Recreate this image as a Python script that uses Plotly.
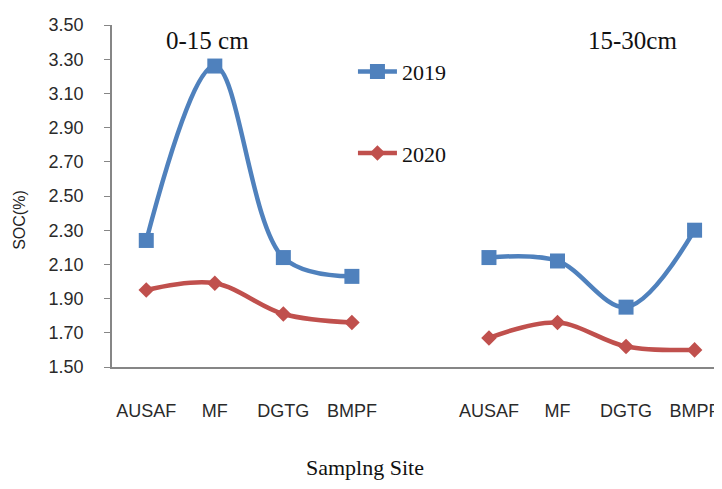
import plotly.graph_objects as go

sites = ["AUSAF", "MF", "DGTG", "BMPF"]
depths = ["0-15 cm", "15-30cm"]
soc_2019_0_15 = [2.24, 3.26, 2.14, 2.03]
soc_2020_0_15 = [1.95, 1.99, 1.81, 1.76]
soc_2019_15_30 = [2.14, 2.12, 1.85, 2.30]
soc_2020_15_30 = [1.67, 1.76, 1.62, 1.60]
y_ticks = [1.50, 1.70, 1.90, 2.10, 2.30, 2.50, 2.70, 2.90, 3.10, 3.30, 3.50]

blue = "#4F81BD"
red = "#C0504D"

x_left = [0, 1, 2, 3]
x_right = [5, 6, 7, 8]

fig = go.Figure()

def add(xs, ys, name, color, symbol, size, show):
    fig.add_trace(go.Scatter(
        x=xs, y=ys, name=name, mode="lines+markers",
        line=dict(color=color, width=4.5, shape="spline", smoothing=1),
        marker=dict(color=color, symbol=symbol, size=size),
        legendgroup=name, showlegend=show,
    ))

add(x_left, soc_2019_0_15, "2019", blue, "square", 15, True)
add(x_right, soc_2019_15_30, "2019", blue, "square", 15, False)
add(x_left, soc_2020_0_15, "2020", red, "diamond", 12, True)
add(x_right, soc_2020_15_30, "2020", red, "diamond", 12, False)

# page body has an 8px margin; size and margins compensate for it
fig.update_layout(
    width=714, height=481,
    margin=dict(l=104, r=0, t=17, b=122, autoexpand=False),
    plot_bgcolor="white", paper_bgcolor="white",
    showlegend=True,
    legend=dict(
        x=0.395, y=0.925, xanchor="left", yanchor="top",
        font=dict(family="Liberation Serif", size=22, color="#111"),
        tracegroupgap=50, itemwidth=39, bgcolor="rgba(0,0,0,0)",
    ),
    xaxis=dict(
        range=[-0.5, 8.4],
        tickmode="array",
        tickvals=x_left + x_right,
        ticktext=sites + sites,
        showgrid=False, zeroline=False,
        showline=True, linecolor="#868686", linewidth=1.5,
        ticks="", ticklabelstandoff=27,
        tickfont=dict(family="Liberation Sans", size=18, color="#2a2a2a"),
    ),
    yaxis=dict(
        range=[1.5, 3.5],
        tickmode="array",
        tickvals=y_ticks,
        ticktext=[f"{v:.2f}" for v in y_ticks],
        showgrid=False, zeroline=False,
        showline=True, linecolor="#868686", linewidth=1.5,
        ticks="outside", ticklen=6, tickcolor="#868686",
        ticklabelstandoff=17,
        tickfont=dict(family="Liberation Sans", size=18, color="#2a2a2a"),
    ),
    annotations=[
        dict(text=depths[0], x=0.89, y=3.41, xref="x", yref="y",
             showarrow=False, font=dict(family="Liberation Serif", size=25, color="#111")),
        dict(text=depths[1], x=7.1, y=3.41, xref="x", yref="y",
             showarrow=False, font=dict(family="Liberation Serif", size=25, color="#111")),
        dict(text="Samplng Site", x=0.415, y=-0.295, xref="paper", yref="paper",
             xanchor="center", yanchor="middle",
             showarrow=False, font=dict(family="Liberation Serif", size=22, color="#111")),
        dict(text="SOC(%)", x=-0.151, y=0.43, xref="paper", yref="paper", textangle=-90,
             xanchor="center", yanchor="middle",
             showarrow=False, font=dict(family="Liberation Sans", size=16, color="#222")),
    ],
)

fig.write_html("out.html")
